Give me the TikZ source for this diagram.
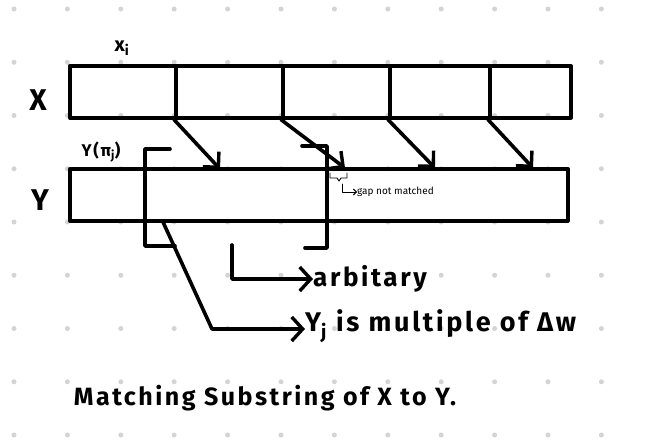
\documentclass[tikz,border=0pt]{standalone}
\usepackage{fontspec}
\setmainfont{Fira Sans}
\newfontfamily\hf[LetterSpace=10]{Fira Sans}
\usetikzlibrary{arrows.meta}
\begin{document}
\begin{tikzpicture}[x=1pt,y=-1pt,
  ink/.style={line width=3.6pt, line cap=round, line join=round},
  cell/.style={draw, ink, minimum height=52pt, inner sep=0pt, anchor=north west},
  barb/.style={-{Straight Barb[length=11pt,width=22pt,line width=3.4pt]}},
  chev/.style={-{Straight Barb[length=11pt,width=24pt,line width=3.4pt]}},
  thin/.style={line width=0.9pt, line cap=round, line join=round},
  hand/.style={font=\hf\bfseries\fontsize{#1}{#1}\selectfont, inner sep=0pt},
  dotc/.style={fill=black!17}
]
\fill[white] (0,0) rectangle (652,439);
\useasboundingbox (0,0) rectangle (652,439);
% dot grid
\foreach \i in {0,...,12}
  \foreach \j in {0,...,8}
    \fill[dotc] ({14+53.4*\i},{9+53.25*\j}) circle (2.5pt);
% X cells
\node[cell, minimum width=106pt] (x1) at (68,64) {};
\node[cell, minimum width=107pt] (x2) at (174,64) {};
\node[cell, minimum width=107pt] (x3) at (281,64) {};
\node[cell, minimum width=100pt] (x4) at (388,64) {};
\node[cell, minimum width=81pt]  (x5) at (488,64) {};
% Y string
\node[cell, minimum width=498pt] (Y) at (68,167) {};
% labels
\node[hand=30] (lx) at (38,100) {X};
\node[hand=30] (ly) at (40,200) {Y};
\node[hand=20] (lxi) at (122,48) {x\textsubscript{i}};
\node[hand=17] (lypi) at (101,152) {Y(π\textsubscript{j})};
% arrow tips on Y
\coordinate (t1) at (220,169);
\coordinate (t2) at (345,168);
\coordinate (t3) at (435,168);
\coordinate (t4) at (533,168);
\draw[ink, barb] (x2.south west) -- (t1);
\draw[ink, barb] (x3.south west) -- (t2);
\draw[ink, barb] (x4.south west) -- (t3);
\draw[ink, barb] (x5.south west) -- (t4);
% brackets
\coordinate (b1a) at (170,149);
\coordinate (b1b) at (145,149);
\coordinate (b1c) at (145,246);
\coordinate (b1d) at (175,246);
\draw[ink] (b1a) -- (b1b) -- (b1c) -- (b1d);
\coordinate (b2a) at (302,146);
\coordinate (b2b) at (327,146);
\coordinate (b2c) at (327,248);
\coordinate (b2d) at (305,248);
\draw[ink] (b2a) -- (b2b) -- (b2c) -- (b2d);
% gap brace
\coordinate (g1) at (330,173);
\coordinate (g2) at (347,173);
\draw[thin] (g1) -- (330,178) -- (337,178) -- (339,181) -- (341,178) -- (347,178) -- (g2);
\node[font=\fontsize{10}{10}\selectfont, anchor=west, inner sep=0pt] (gap) at (357,192) {gap not matched};
\draw[thin, -{Straight Barb[length=3pt,width=6pt]}] (342,184) |- (gap.west);
% arbitary
\node[hand=26, anchor=west] (arb) at (313,279) {arbitary};
\coordinate (a0) at (232,245);
\draw[ink, chev] (a0) |- (arb.west);
% multiple
\node[hand=27, anchor=west] (mul) at (305,326) {Y\textsubscript{j} is multiple of Δw};
\coordinate (m0) at (163,222);
\coordinate (m1) at (212,329);
\draw[ink, chev] (m0) -- (m1) -- (m1 -| mul.west);
% caption
\node[hand=25] (cap) at (265,398) {Matching Substring of X to Y.};
\end{tikzpicture}
\end{document}
